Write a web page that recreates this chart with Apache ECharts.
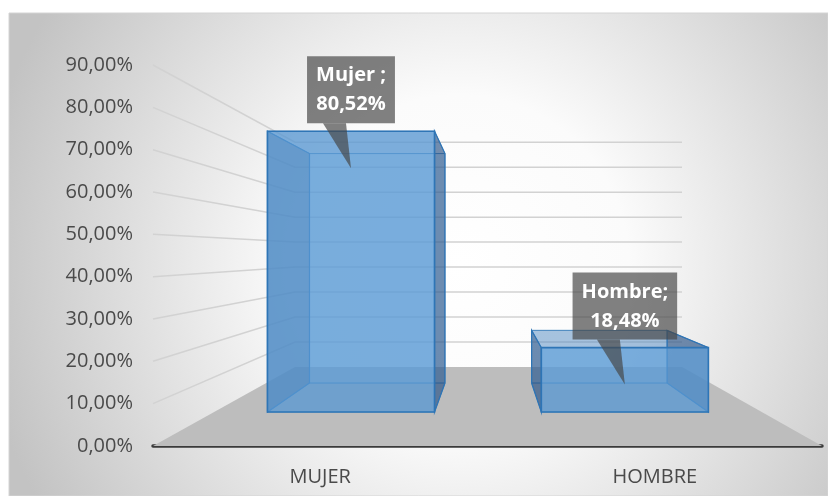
<!DOCTYPE html>
<html>
<head>
<meta charset="utf-8">
<script src="https://cdn.jsdelivr.net/npm/echarts@6/dist/echarts.min.js"></script>
<style>
html, body { margin: 0; padding: 0; background: #fff; }
#main { width: 828px; height: 496px; }
</style>
</head>
<body>
<div id="main"></div>
<script>
var categories = ['MUJER', 'HOMBRE'];
var labelNames = ['Mujer ;', 'Hombre;'];
var values = [0.8052, 0.1848];
var yTicks = [0, 0.1, 0.2, 0.3, 0.4, 0.5, 0.6, 0.7, 0.8, 0.9];

var myChart = echarts.init(document.getElementById('main'));

// perspective of the excel 3d box (px offsets of the back wall, depth of the bars)
var P = { dl: 142, dr: 140, db: 79, sk: 0.41, u1: 0.43, u2: 0.797, bar: 0.61 };

function fmt(v) {
  return (v * 100).toFixed(2).replace('.', ',') + '%';
}

// f: 0..1 across the floor, v: value, u: 0 front .. 1 back wall
function proj(cs, api, f, v, u) {
  var yb = cs.y + cs.height;
  var hv = yb - api.coord([0, v])[1];
  var xl = cs.x + P.dl * u, xr = cs.x + cs.width - P.dr * u;
  return [xl + f * (xr - xl), yb - P.db * u - hv * (1 - P.sk * u)];
}

function renderGrid(params, api) {
  var cs = params.coordSys, v = api.value(1);
  var a = proj(cs, api, 0, v, 0), b = proj(cs, api, 0, v, 1), c = proj(cs, api, 1, v, 1);
  if (v === 0) {
    return {
      type: 'polygon',
      shape: { points: [a, b, c, proj(cs, api, 1, 0, 0)] },
      style: { fill: '#bdbdbd' }
    };
  }
  return {
    type: 'polyline',
    shape: { points: [a, b, c] },
    style: { stroke: '#d2d2d2', lineWidth: 1.5, fill: null }
  };
}

function renderBar(params, api) {
  var cs = params.coordSys, i = api.value(0), v = api.value(1);
  var fc = (api.coord([i, 0])[0] - cs.x) / cs.width;
  var hw = api.size([1, 0])[0] * P.bar / 2 / cs.width;
  var f1 = fc - hw, f2 = fc + hw;
  function pt(f, h, u) { return proj(cs, api, f, h, u); }
  var fbl = pt(f1, 0, P.u1), fbr = pt(f2, 0, P.u1), ftl = pt(f1, v, P.u1), ftr = pt(f2, v, P.u1);
  var bbl = pt(f1, 0, P.u2), bbr = pt(f2, 0, P.u2), btl = pt(f1, v, P.u2), btr = pt(f2, v, P.u2);
  var inner = { stroke: 'rgba(46,117,182,0.55)', lineWidth: 1 };
  function face(pts, fill, st) {
    return { type: 'polygon', shape: { points: pts }, style: { fill: fill, stroke: st.stroke, lineWidth: st.lineWidth } };
  }
  var tip = [(ftl[0] + ftr[0]) / 2, ftl[1]];
  var boxFill = 'rgba(70,70,70,0.68)';
  return {
    type: 'group',
    children: [
      face([bbl, bbr, btr, btl], 'rgba(91,155,213,0.35)', inner),
      face([fbl, fbr, bbr, bbl], 'rgba(60,110,170,0.22)', inner),
      face([ftl, ftr, btr, btl], 'rgba(60,110,170,0.22)', inner),
      face([fbl, bbl, btl, ftl], 'rgba(35,75,125,0.55)', { stroke: '#2e75b6', lineWidth: 1.2 }),
      face([fbr, bbr, btr, ftr], 'rgba(35,75,125,0.55)', { stroke: '#2e75b6', lineWidth: 1.2 }),
      face([fbl, fbr, ftr, ftl], 'rgba(91,155,213,0.72)', { stroke: '#2e75b6', lineWidth: 1.6 }),
      {
        type: 'polygon',
        shape: { points: [[tip[0] - 28, tip[1] - 8], [tip[0] - 5, tip[1] - 8], [tip[0], tip[1] + 37]] },
        style: { fill: boxFill }
      },
      {
        type: 'text',
        x: tip[0],
        y: tip[1] - 8,
        style: {
          text: labelNames[i] + '\n' + fmt(v),
          fill: '#fff',
          fontFamily: 'Open Sans',
          fontWeight: 'bold',
          fontSize: 20,
          lineHeight: 29,
          align: 'center',
          verticalAlign: 'bottom',
          backgroundColor: boxFill,
          padding: [5, 9, 4, 9]
        }
      }
    ]
  };
}

var option = {
  backgroundColor: '#fff',
  animation: false,
  graphic: [{
    type: 'rect',
    z: -10,
    silent: true,
    shape: { x: 9, y: 13, width: 819, height: 483 },
    style: {
      fill: {
        type: 'radial', x: 0.55, y: 0.52, r: 1,
        colorStops: [
          { offset: 0, color: '#ffffff' },
          { offset: 0.35, color: '#fbfbfb' },
          { offset: 1, color: '#c3c3c3' }
        ]
      },
      stroke: '#d4d4d4',
      lineWidth: 1
    }
  }],
  grid: { left: 153, right: 6, top: 65, bottom: 50, containLabel: false, outerBoundsMode: 'none' },
  xAxis: {
    type: 'category',
    data: categories,
    axisLine: { lineStyle: { color: '#3a3a3a', width: 3.5 } },
    axisTick: { show: false },
    splitLine: { show: false },
    axisLabel: { color: '#4a4a4a', fontFamily: 'Open Sans', fontSize: 20, margin: 21 }
  },
  yAxis: {
    type: 'value',
    min: 0,
    max: 0.9,
    interval: 0.1,
    axisLine: { show: false },
    axisTick: { show: false },
    splitLine: { show: false },
    axisLabel: { color: '#4a4a4a', fontFamily: 'Open Sans', fontSize: 20, margin: 20, formatter: fmt }
  },
  series: [
    {
      type: 'custom',
      z: 1,
      silent: true,
      renderItem: renderGrid,
      data: yTicks.map(function (t) { return [0, t]; })
    },
    {
      type: 'custom',
      z: 3,
      renderItem: renderBar,
      data: values.map(function (v, i) { return [i, v]; })
    }
  ]
};
myChart.setOption(option);
</script>
</body>
</html>
